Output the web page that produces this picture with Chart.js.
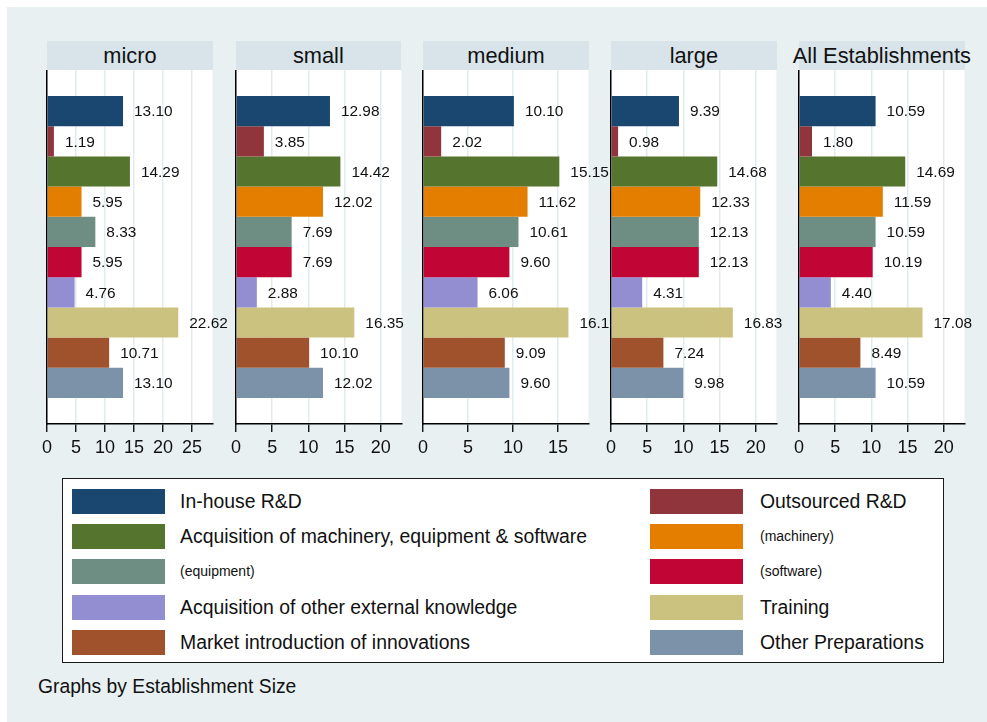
<!DOCTYPE html>
<html>
<head>
<meta charset="utf-8">
<script src="https://cdn.jsdelivr.net/npm/chart.js@4.4.1/dist/chart.umd.min.js"></script>
<style>
    body { margin: 0; background: #fff; font-family: "Liberation Sans", Arial, sans-serif; color: #111; }
    #region { position: absolute; left: 7px; top: 7px; width: 980px; height: 715px; background: #e8f0f2; }
    .panel-title { position: absolute; top: 41px; height: 29px; line-height: 29px; background: #d8e4ea;
        font-size: 21.8px; white-space: nowrap; }
    .panel-title span { position: absolute; left: 50%; top: 0; transform: translateX(-50%); }
    canvas.panel { position: absolute; top: 70px; }
    #legend { position: absolute; left: 62px; top: 478px; width: 880px; height: 183px;
        background: #fff; border: 1.5px solid #1a1a1a; }
    .swatch { position: absolute; width: 93px; height: 25px; }
    .lg-text { position: absolute; font-size: 19.4px; line-height: 25px; white-space: nowrap; }
    .lg-text.small { font-size: 14px; }
    #note { position: absolute; left: 38px; top: 676px; font-size: 19.3px; white-space: nowrap; }
</style>
</head>
<body>
<div id="region"></div>
<div id="legend"></div>
<div id="note">Graphs by Establishment Size</div>

<script>
// Data
const panels = ['micro', 'small', 'medium', 'large', 'All Establishments'];
const series = [
    'In-house R&D',
    'Outsourced R&D',
    'Acquisition of machinery, equipment & software',
    '(machinery)',
    '(equipment)',
    '(software)',
    'Acquisition of other external knowledge',
    'Training',
    'Market introduction of innovations',
    'Other Preparations'
];
const microValues  = [13.10, 1.19, 14.29, 5.95, 8.33, 5.95, 4.76, 22.62, 10.71, 13.10];
const smallValues  = [12.98, 3.85, 14.42, 12.02, 7.69, 7.69, 2.88, 16.35, 10.10, 12.02];
const mediumValues = [10.10, 2.02, 15.15, 11.62, 10.61, 9.60, 6.06, 16.16, 9.09, 9.60];
const largeValues  = [9.39, 0.98, 14.68, 12.33, 12.13, 12.13, 4.31, 16.83, 7.24, 9.98];
const allValues    = [10.59, 1.80, 14.69, 11.59, 10.59, 10.19, 4.40, 17.08, 8.49, 10.59];
const panelValues = [microValues, smallValues, mediumValues, largeValues, allValues];
const axisMax = [28.5, 22.85, 18.38, 22.85, 22.87];

// Styling
const colors = ['#1a476f', '#90353b', '#55752f', '#e37e00', '#6e8e84',
                '#c10534', '#938dd2', '#cac27e', '#a0522d', '#7b92a8'];
const plotLeft = [47.3, 235.7, 423.3, 611.2, 799.2];
const plotWidth = 165.4;
const plotHeight = 354.3;
const axisHeight = 42;
const padLeft = 16;

// White plot background
const plotBackground = {
    id: 'plotBackground',
    beforeDraw(chart) {
        const { ctx, chartArea } = chart;
        ctx.save();
        ctx.fillStyle = '#fff';
        ctx.fillRect(chartArea.left, chartArea.top, chartArea.right - chartArea.left, chartArea.bottom - chartArea.top);
        ctx.restore();
    }
};

// Value labels to the right of each bar
const barLabels = {
    id: 'barLabels',
    afterDatasetsDraw(chart) {
        const { ctx } = chart;
        ctx.save();
        ctx.font = '15.4px "Liberation Sans", Arial, sans-serif';
        ctx.fillStyle = '#111';
        ctx.textAlign = 'left';
        ctx.textBaseline = 'middle';
        chart.data.datasets.forEach((ds, i) => {
            const bar = chart.getDatasetMeta(i).data[0];
            ctx.fillText(ds.data[0].toFixed(2), bar.x + 11, bar.y + 1);
        });
        ctx.restore();
    }
};

// Build each panel
panels.forEach((name, p) => {
    const title = document.createElement('div');
    title.className = 'panel-title';
    title.style.left = plotLeft[p] + 'px';
    title.style.width = plotWidth + 'px';
    title.innerHTML = '<span>' + name + '</span>';
    document.body.appendChild(title);

    const canvas = document.createElement('canvas');
    canvas.className = 'panel';
    const left = plotLeft[p] - padLeft;
    const right = p < panels.length - 1 ? plotLeft[p + 1] : 987;
    const width = Math.round(right - left);
    canvas.width = width;
    canvas.height = Math.round(plotHeight + axisHeight);
    canvas.style.left = left + 'px';
    document.body.appendChild(canvas);

    new Chart(canvas.getContext('2d'), {
        type: 'bar',
        data: {
            labels: [''],
            datasets: series.map((s, i) => ({
                label: s,
                data: [panelValues[p][i]],
                backgroundColor: colors[i],
                borderWidth: 0,
                categoryPercentage: 0.853,
                barPercentage: 1
            }))
        },
        options: {
            indexAxis: 'y',
            responsive: false,
            animation: false,
            devicePixelRatio: 1,
            layout: {
                padding: { left: padLeft, right: width - padLeft - plotWidth, top: 0, bottom: 0 }
            },
            plugins: {
                legend: { display: false },
                tooltip: { enabled: false }
            },
            scales: {
                x: {
                    min: 0,
                    max: axisMax[p],
                    afterFit: s => { s.height = axisHeight; },
                    grid: { color: '#e1ebef', lineWidth: 1.5, tickColor: '#000', tickLength: 8, tickWidth: 1.3 },
                    border: { display: true, color: '#000', width: 1.5 },
                    ticks: {
                        stepSize: 5,
                        includeBounds: false,
                        maxRotation: 0,
                        padding: 5,
                        color: '#111',
                        font: { size: 18, family: '"Liberation Sans", Arial, sans-serif' }
                    }
                },
                y: {
                    afterFit: s => { s.width = 0; },
                    grid: { color: 'rgba(0,0,0,0)', drawTicks: false },
                    border: { display: true, color: '#000', width: 1.5 },
                    ticks: { display: false }
                }
            }
        },
        plugins: [plotBackground, barLabels]
    });
});

// Legend (two columns, row-major)
const legend = document.getElementById('legend');
series.forEach((s, i) => {
    const row = Math.floor(i / 2);
    const col = i % 2;
    const top = 10 + row * 35.2;
    const sw = document.createElement('div');
    sw.className = 'swatch';
    sw.style.background = colors[i];
    sw.style.left = (col ? 587 : 9) + 'px';
    sw.style.top = top + 'px';
    legend.appendChild(sw);
    const tx = document.createElement('div');
    tx.className = 'lg-text' + (s.startsWith('(') ? ' small' : '');
    tx.textContent = s;
    tx.style.left = (col ? 697 : 117) + 'px';
    tx.style.top = top + 'px';
    legend.appendChild(tx);
});
</script>
</body>
</html>
